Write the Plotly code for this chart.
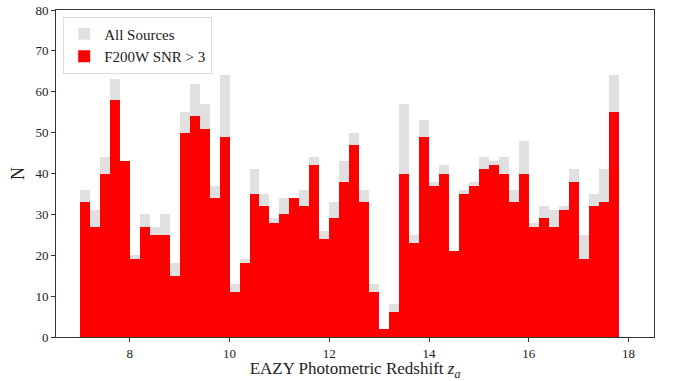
import plotly.graph_objects as go

# Histogram bins: left edges (redshift), width 0.2
bin_start = 7.0
bin_width = 0.2
all_sources = [36, 31, 44, 63, 43, 20, 30, 27, 30, 18,
               55, 62, 57, 37, 64, 13, 19, 41, 35, 29,
               34, 34, 36, 44, 26, 33, 43, 50, 36, 13,
               2, 8, 57, 25, 53, 38, 42, 21, 36, 38,
               44, 43, 44, 36, 48, 28, 32, 31, 32, 41,
               25, 35, 41, 64]
snr_gt3 = [33, 27, 40, 58, 43, 19, 27, 25, 25, 15,
           50, 54, 51, 34, 49, 11, 18, 35, 32, 28,
           30, 34, 32, 42, 24, 29, 38, 47, 33, 11,
           2, 6, 40, 23, 49, 37, 40, 21, 35, 37,
           41, 42, 40, 33, 40, 27, 29, 27, 31, 38,
           19, 32, 33, 55]
bin_left = [round(bin_start + bin_width * i, 2) for i in range(len(all_sources))]

x_ticks = [8, 10, 12, 14, 16, 18]
y_ticks = [0, 10, 20, 30, 40, 50, 60, 70, 80]

font_family = "'Liberation Serif', 'Times New Roman', Times, 'DejaVu Serif', serif"

fig = go.Figure()
fig.add_trace(go.Bar(x=bin_left, y=all_sources, width=bin_width, offset=0,
                     name="All Sources", marker=dict(color="#e0e0e0", line=dict(width=0))))
fig.add_trace(go.Bar(x=bin_left, y=snr_gt3, width=bin_width, offset=0,
                     name="F200W SNR > 3", marker=dict(color="#ff0000", line=dict(width=0))))

axis_common = dict(showline=True, linecolor="#333333", linewidth=1, mirror=True,
                   ticks="outside", ticklen=4, tickcolor="#333333", tickwidth=1,
                   showgrid=False, zeroline=False, automargin=False,
                   tickfont=dict(family=font_family, size=13, color="#222222"))

fig.update_layout(
    width=673, height=381,
    margin=dict(l=56, r=19, t=10, b=44),
    paper_bgcolor="white", plot_bgcolor="white",
    barmode="overlay", bargap=0,
    font=dict(family=font_family, color="#222222"),
    xaxis=dict(range=[6.52, 18.51], tickvals=x_ticks, ticktext=[str(v) for v in x_ticks],
               title=dict(text="EAZY Photometric Redshift <i>z<sub>a</sub></i>",
                          font=dict(family=font_family, size=17), standoff=6),
               **axis_common),
    yaxis=dict(range=[0, 80], tickvals=y_ticks, ticktext=[str(v) for v in y_ticks],
               title=dict(text="N", font=dict(family=font_family, size=18), standoff=6),
               **axis_common),
    legend=dict(x=0.012, y=0.98, xanchor="left", yanchor="top",
                bgcolor="rgba(255,255,255,0.9)", bordercolor="#dddddd", borderwidth=1,
                font=dict(family=font_family, size=15, color="#222222"),
                traceorder="normal", itemwidth=30),
    showlegend=True,
)

fig.write_html("out.html")
